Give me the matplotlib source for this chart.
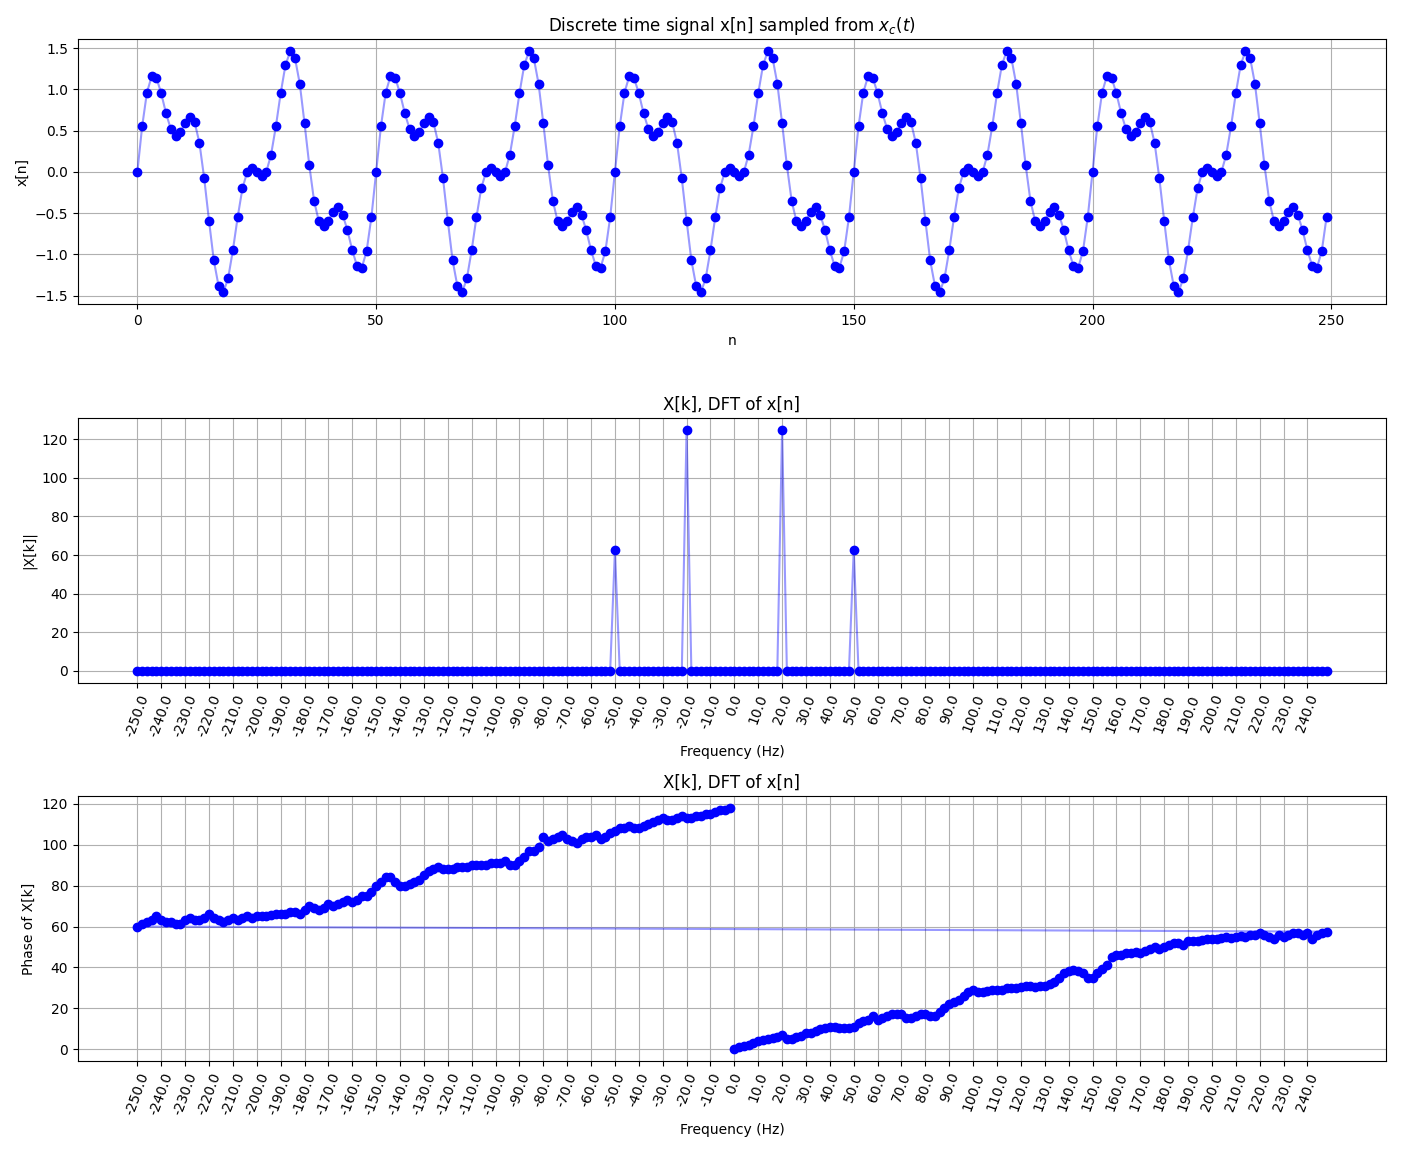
import numpy as np
import matplotlib.pyplot as plt

# one period (50 samples) of x[n]; the signal repeats 5 times
x_period = [0.0, 0.55, 0.96, 1.16, 1.14, 0.95, 0.71, 0.52, 0.43, 0.48,
            0.59, 0.66, 0.60, 0.35, -0.08, -0.59, -1.07, -1.38, -1.46, -1.29,
            -0.95, -0.55, -0.20, 0.0, 0.05, 0.0, -0.05, 0.0, 0.21, 0.55,
            0.95, 1.29, 1.46, 1.38, 1.07, 0.59, 0.08, -0.35, -0.60, -0.66,
            -0.59, -0.48, -0.43, -0.52, -0.71, -0.95, -1.14, -1.16, -0.96, -0.55]
x = np.tile(x_period, 5)
n = np.arange(len(x))

fs = 500
N = len(x)
freqs = np.fft.fftfreq(N, d=1 / fs)  # 0..248 then -250..-2

mag = np.zeros(N)
mag[10] = 125.0
mag[240] = 125.0
mag[25] = 62.5
mag[225] = 62.5

phase_pos = [0, 1, 1.5, 2, 3, 4, 4.5, 5, 5.5, 6, 7, 5, 5, 6, 6.5,
             8, 8, 9, 10, 10.5, 11, 11, 10.5, 10.5, 10.5, 11, 13, 13.5, 14, 16,
             14, 15, 16, 17, 17, 17, 15, 15, 16, 17, 17, 16, 16, 18, 20,
             22, 23, 24, 26, 28, 29, 28, 28, 28.5, 29, 29, 29, 30, 30, 30,
             30.5, 31, 31, 30.5, 31, 31, 32, 33, 35, 37, 38, 38.5, 38, 37, 35,
             35, 37, 39, 41, 45, 46, 46, 47, 47, 47.5, 47, 48, 49, 50, 49,
             50, 51, 52, 52, 51, 53, 53, 53, 53.5, 54, 54, 54, 54.5, 55, 54.5,
             55, 55.5, 55, 56, 56, 57, 56, 55, 54, 56, 55, 56, 57, 57, 56,
             57, 54, 56, 57, 57.5]
phase_neg = [60, 61, 62, 63, 65, 63, 62, 62, 61, 61, 63, 64, 63, 63, 64,
             66, 64, 63, 62, 63, 64, 63, 64, 65, 64, 65, 65, 65, 65.5, 66,
             66, 66, 67, 67, 66, 68, 70, 69, 68, 69, 71, 70, 71, 72, 73,
             72, 73, 75, 75, 77, 80, 82, 84, 84, 82, 80, 80, 81, 82, 83,
             85, 87, 88, 89, 88, 88, 88, 89, 89, 89, 90, 90, 90, 90, 91,
             91, 91, 92, 90, 90, 92, 94, 97, 97, 99, 104, 102, 103, 104, 105,
             103, 102, 101, 103, 104, 104, 105, 103, 104, 106, 107, 108, 108, 109, 108,
             108, 109, 110, 111, 112, 113, 112, 112, 113, 114, 113, 113, 114, 114, 115,
             115, 116, 117, 117, 118]
phase = np.array(phase_pos + phase_neg)

tick_vals = np.arange(-250, 250, 10)
tick_labels = [f"{v:.1f}" for v in tick_vals]

fig, axes = plt.subplots(3, 1, figsize=(14.01, 11.52), dpi=100)

ax = axes[0]
ax.plot(n, x, 'b', alpha=0.4)
ax.plot(n, x, 'bo')
ax.set_title('Discrete time signal x[n] sampled from $x_c(t)$')
ax.set_xlabel('n')
ax.set_ylabel('x[n]')
ax.grid(True)

ax = axes[1]
ax.plot(freqs, mag, 'b', alpha=0.4)
ax.plot(freqs, mag, 'bo')
ax.set_title('X[k], DFT of x[n]')
ax.set_xlabel('Frequency (Hz)')
ax.set_ylabel('|X[k]|')
ax.set_xticks(tick_vals)
ax.set_xticklabels(tick_labels, rotation=70)
ax.grid(True)

ax = axes[2]
ax.plot(freqs, phase, 'b', alpha=0.4)
ax.plot(freqs, phase, 'bo')
ax.set_title('X[k], DFT of x[n]')
ax.set_xlabel('Frequency (Hz)')
ax.set_ylabel('Phase of X[k]')
ax.set_xticks(tick_vals)
ax.set_xticklabels(tick_labels, rotation=70)
ax.grid(True)

plt.tight_layout()
plt.savefig('out.png')
